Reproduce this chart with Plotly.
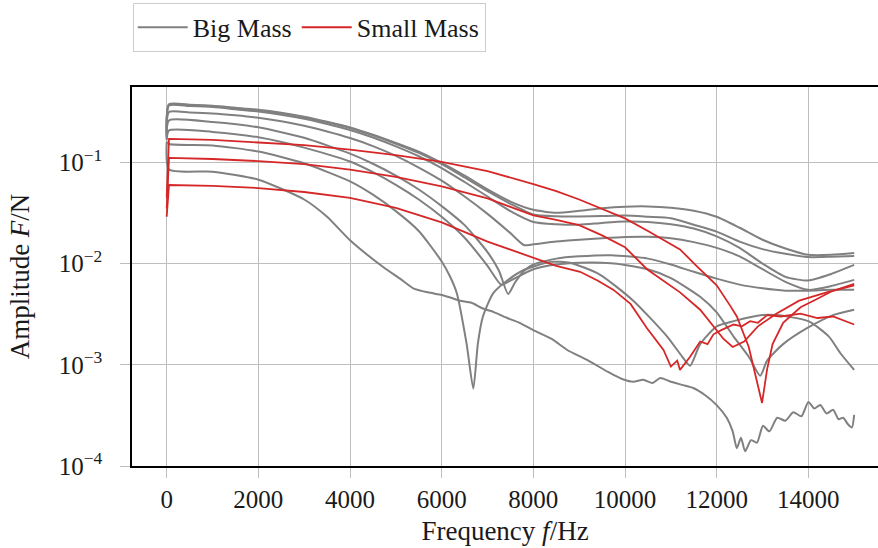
import plotly.graph_objects as go

# ---------------- data ----------------
f_std = [0, 50, 500, 1000, 1500, 2000, 2500, 3000, 3500, 4000, 4500, 5000, 5500, 6000,
         6500, 7000, 7500, 8000, 8500, 9000, 9500, 10000, 10500, 11000, 11500, 12000,
         12500, 13000, 13500, 14000, 14500, 15000]

# Big Mass curves
bm1_f = f_std
bm1_a = [0.2, 0.376, 0.372, 0.363, 0.347, 0.332, 0.31, 0.283, 0.252, 0.222, 0.188, 0.156, 0.128, 0.099,
         0.074, 0.054, 0.041, 0.034, 0.0318, 0.0333, 0.0353, 0.0365, 0.0367, 0.0356, 0.0333, 0.0290,
         0.0226, 0.0172, 0.0141, 0.0122, 0.0122, 0.0127]

bm2_f = f_std
bm2_a = [0.19, 0.37, 0.366, 0.358, 0.342, 0.326, 0.305, 0.279, 0.249, 0.219, 0.185, 0.153, 0.124, 0.096,
         0.071, 0.052, 0.039, 0.0305, 0.0293, 0.0292, 0.0295, 0.0298, 0.029, 0.0281, 0.0242, 0.0207,
         0.0165, 0.0139, 0.0125, 0.0116, 0.0117, 0.0119]

bm3_f = f_std
bm3_a = [0.18, 0.365, 0.36, 0.352, 0.335, 0.318, 0.296, 0.27, 0.24, 0.209, 0.176, 0.144, 0.115, 0.088,
         0.064, 0.046, 0.033, 0.0258, 0.0245, 0.0242, 0.0252, 0.026, 0.0258, 0.0245, 0.0222, 0.0186,
         0.0143, 0.0100, 0.0074, 0.0068, 0.0079, 0.0097]

bm4_f = [0, 50, 500, 1000, 1500, 2000, 2500, 3000, 3500, 4000, 4500, 5000, 5500, 6000, 6500, 7000,
         7500, 7800, 8000, 8500, 9000, 9500, 10000, 10500, 11000, 11500, 12000, 12500, 13000, 13500,
         14000, 14500, 15000]
bm4_a = [0.175, 0.315, 0.312, 0.305, 0.292, 0.276, 0.255, 0.23, 0.202, 0.174, 0.145, 0.116, 0.089, 0.066,
         0.046, 0.031, 0.02, 0.0152, 0.0155, 0.0165, 0.0172, 0.0178, 0.0183, 0.0184, 0.0178, 0.0163,
         0.0143, 0.0118, 0.0088, 0.0066, 0.0055, 0.006, 0.0069]

bm5_f = [0, 50, 1000, 2000, 3000, 4000, 4500, 5000, 5500, 6000, 6500, 7000, 7250, 7450, 7600, 7800,
         8000, 8500, 9000, 9700, 10500, 11000, 11500, 12000, 12500, 13000, 13500, 14000, 14500, 15000]
bm5_a = [0.17, 0.26, 0.25, 0.222, 0.175, 0.122, 0.097, 0.074, 0.054, 0.037, 0.024, 0.013, 0.0085, 0.005,
         0.0065, 0.0085, 0.0098, 0.0112, 0.0118, 0.0121, 0.0112, 0.0098, 0.0083, 0.0071, 0.0062, 0.0057,
         0.0054, 0.0054, 0.0055, 0.0055]

bm6_f = [0, 50, 1000, 2000, 3000, 4000, 4500, 5000, 5500, 6000, 6500, 7000, 7300, 7500, 8000, 8500,
         9000, 9700, 10000, 10500, 11000, 11640, 12000, 12370, 12700, 12950, 13100, 13450, 13970, 14540, 15000]
bm6_a = [0.165, 0.207, 0.2, 0.177, 0.14, 0.102, 0.08, 0.06, 0.043, 0.029, 0.018, 0.0095, 0.0062, 0.0068,
         0.0088, 0.0098, 0.0102, 0.0101, 0.0097, 0.0088, 0.0072, 0.0047, 0.0033, 0.0019, 0.0012, 0.00078,
         0.0011, 0.0016, 0.0023, 0.0031, 0.0035]

bm7_f = [0, 50, 1000, 2000, 3000, 4000, 4500, 5000, 5500, 6000, 6180, 6330, 6545, 6690, 6790, 6900,
         7125, 7430, 7780, 8370, 8800, 9450, 10180, 10920, 11250, 11420, 11640, 12000, 12370, 13000,
         13300, 14000, 14450, 14700, 15000]
bm7_a = [0.16, 0.152, 0.147, 0.128, 0.098, 0.065, 0.048, 0.033, 0.021, 0.0105, 0.0075, 0.0051, 0.0016,
         0.00058, 0.00163, 0.003, 0.0051, 0.0068, 0.0086, 0.0104, 0.0102, 0.0078, 0.0043, 0.0019, 0.0012,
         0.00098, 0.0016, 0.0024, 0.0027, 0.0031, 0.0031, 0.0027, 0.0019, 0.0013, 0.00089]

bm8_f = [0, 50, 1000, 2000, 3000, 3500, 4000, 4730, 5090, 5380, 5700, 6000, 6200, 6400, 6650, 6900,
         7150, 7430, 7700, 8000, 8400, 8740, 9200, 9630, 9740, 9950, 10180, 10400, 10600, 10770, 11000,
         11270, 11490, 11750, 12000, 12220, 12350, 12440, 12530, 12620, 12750, 12880, 13010, 13150, 13320,
         13500, 13670, 13850, 14000, 14130, 14260, 14400, 14540, 14660, 14760, 14860, 14950, 15000]
bm8_a = [0.16, 0.085, 0.081, 0.0675, 0.043, 0.029, 0.017, 0.0092, 0.0071, 0.0057, 0.0052, 0.0049,
         0.0046, 0.0043, 0.0041, 0.0036, 0.0033, 0.0029, 0.0026, 0.0022, 0.0018, 0.0014, 0.0011, 0.00085,
         0.0008, 0.00072, 0.00068, 0.00071, 0.00066, 0.00074, 0.00068, 0.00063, 0.00059, 0.0005, 0.0004,
         0.0003, 0.00022, 0.00015, 0.00019, 0.00014, 0.00018, 0.00017, 0.00025, 0.00022, 0.0003, 0.00028,
         0.00034, 0.00031, 0.00043, 0.00037, 0.0004, 0.00033, 0.00036, 0.00029, 0.0003, 0.00026, 0.00024, 0.00032]

# Small Mass curves
sm1_f = [0, 50, 1000, 2000, 3000, 4000, 5000, 6000, 7000, 8000, 8500, 9000, 9500, 10000, 10500, 10840,
         11200, 11570, 12000, 12300, 12440, 12700, 12990, 13100, 13220, 13450, 13830, 14200, 14500, 15000]
sm1_a = [0.045, 0.171, 0.167, 0.158, 0.148, 0.134, 0.118, 0.101, 0.082, 0.061, 0.052, 0.043, 0.035, 0.028,
         0.021, 0.0172, 0.0138, 0.0094, 0.0061, 0.0038, 0.003, 0.0015, 0.00042, 0.0009, 0.0016, 0.0026,
         0.0037, 0.0045, 0.0053, 0.0063]

sm2_f = [0, 50, 1000, 2000, 3000, 4000, 5000, 6000, 7000, 8000, 8500, 9000, 9500, 10000, 10480, 11200,
         11640, 11930, 12150, 12350, 12600, 12900, 13300, 13800, 14400, 15000]
sm2_a = [0.035, 0.111, 0.108, 0.103, 0.096, 0.085, 0.072, 0.058, 0.044, 0.03, 0.027, 0.024, 0.019, 0.0145,
         0.0088, 0.0052, 0.0035, 0.0024, 0.0018, 0.0015, 0.0017, 0.0024, 0.0032, 0.0043, 0.0052, 0.0061]

sm3_f = [0, 50, 1000, 2000, 3000, 4000, 5000, 6000, 7000, 8000, 8500, 9020, 9400, 9750, 10120, 10480,
         10840, 11000, 11140, 11200, 11420, 11640, 11800, 11930, 12100, 12370, 12550, 12730, 12900,
         13100, 13400, 13830, 14200, 14540, 14800, 15000]
sm3_a = [0.029, 0.0598, 0.0585, 0.0558, 0.051, 0.0445, 0.0355, 0.0255, 0.0165, 0.0113, 0.0095, 0.0083,
         0.0068, 0.0055, 0.004, 0.0023, 0.0014, 0.00096, 0.0011, 0.00089, 0.0012, 0.0017, 0.0016, 0.002,
         0.0022, 0.0025, 0.0024, 0.0027, 0.0026, 0.0031, 0.003, 0.0032, 0.0029, 0.003, 0.0027, 0.0025]

big_mass = [(bm1_f, bm1_a), (bm2_f, bm2_a), (bm3_f, bm3_a), (bm4_f, bm4_a),
            (bm5_f, bm5_a), (bm6_f, bm6_a), (bm7_f, bm7_a), (bm8_f, bm8_a)]
small_mass = [(sm1_f, sm1_a), (sm2_f, sm2_a), (sm3_f, sm3_a)]

x_ticks = [0, 2000, 4000, 6000, 8000, 10000, 12000, 14000]
y_ticks = [1e-4, 1e-3, 1e-2, 1e-1]
y_tick_text = ["10<sup>−4</sup>", "10<sup>−3</sup>", "10<sup>−2</sup>", "10<sup>−1</sup>"]

GRAY = "rgb(128,128,128)"
RED = "rgb(214,39,40)"
GRID = "rgb(190,190,190)"

fig = go.Figure()
for i, (f, a) in enumerate(big_mass):
    fig.add_trace(go.Scatter(x=f, y=a, mode="lines", name="Big Mass",
                             legendgroup="big", showlegend=(i == 0),
                             line=dict(color=GRAY, width=2, shape="spline", smoothing=0.6)))
for i, (f, a) in enumerate(small_mass):
    fig.add_trace(go.Scatter(x=f, y=a, mode="lines", name="Small Mass",
                             legendgroup="small", showlegend=(i == 0),
                             line=dict(color=RED, width=1.8)))

fig.update_layout(
    width=878, height=548,
    margin=dict(l=132, r=0, t=87, b=82),
    plot_bgcolor="white", paper_bgcolor="white",
    font=dict(family="Liberation Serif", size=26, color="#1a1a1a"),
    legend=dict(orientation="h", x=0.001, xanchor="left", y=1.222, yanchor="top",
                bordercolor="rgb(205,205,205)", borderwidth=1,
                font=dict(size=26), itemwidth=50, tracegroupgap=0),
)
fig.update_xaxes(range=[-757, 15520], tickvals=x_ticks, ticktext=[str(t) for t in x_ticks],
                 showgrid=True, gridcolor=GRID, gridwidth=1, zeroline=False,
                 showline=True, linecolor="black", linewidth=1.5, mirror=True,
                 ticks="outside", ticklen=10, tickcolor=GRID,
                 tickfont=dict(size=25),
                 title=dict(text="Frequency <i>f</i>/Hz", standoff=9, font=dict(size=27)))
fig.update_yaxes(type="log", range=[-4, -0.255], tickvals=y_ticks, ticktext=y_tick_text,
                 showgrid=True, gridcolor=GRID, gridwidth=1, zeroline=False,
                 showline=True, linecolor="black", linewidth=1.5, mirror=False,
                 ticks="outside", ticklen=10, tickcolor=GRID,
                 tickfont=dict(size=25), ticklabelstandoff=13,
                 title=dict(text="Amplitude <i>F</i>/N", standoff=21, font=dict(size=27)))

fig.write_html("out.html")
